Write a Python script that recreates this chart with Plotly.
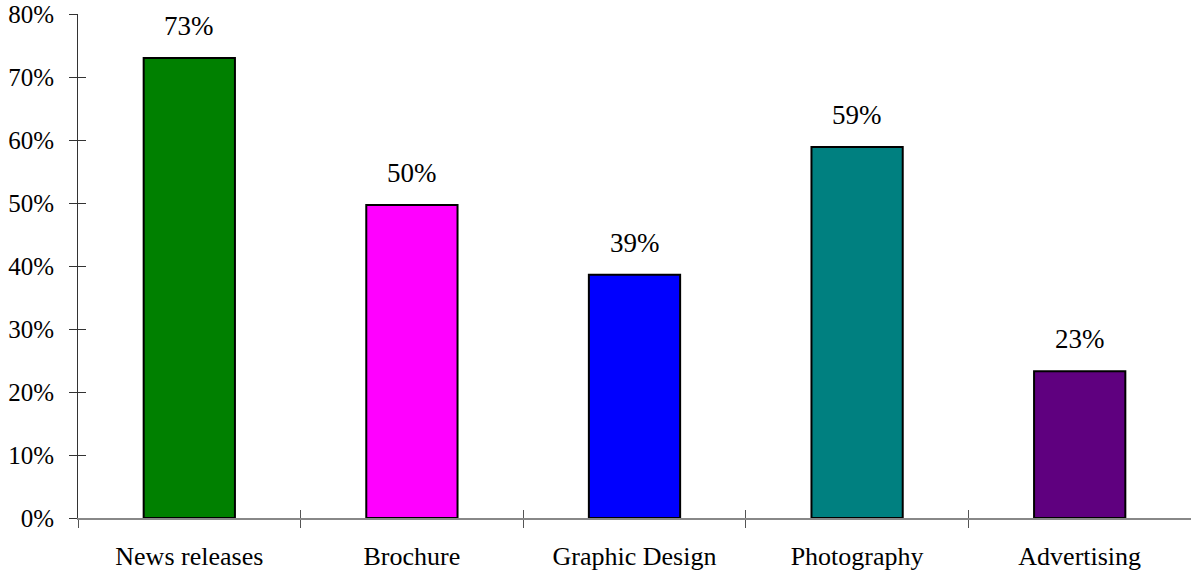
import plotly.graph_objects as go

categories = ["News releases", "Brochure", "Graphic Design", "Photography", "Advertising"]
values = [0.73, 0.497, 0.386, 0.589, 0.233]
colors = ["#008000", "#FF00FF", "#0000FF", "#008080", "#5F007F"]
y_ticks = [0, 0.1, 0.2, 0.3, 0.4, 0.5, 0.6, 0.7, 0.8]
y_tick_labels = ["0%", "10%", "20%", "30%", "40%", "50%", "60%", "70%", "80%"]

FONT = "Liberation Serif, Times New Roman, serif"

fig = go.Figure()
fig.add_trace(go.Bar(
    x=categories, y=values,
    marker=dict(color=colors, line=dict(color="black", width=2)),
    width=0.41,
    hoverinfo="skip",
))

for c, v in zip(categories, values):
    fig.add_annotation(x=c, y=v, text=f"{round(v*100):d}%", showarrow=False,
                       yanchor="bottom", yshift=15,
                       font=dict(family=FONT, size=27, color="black"))

fig.update_layout(
    width=1191, height=575,
    margin=dict(l=78, r=0, t=14, b=57),
    paper_bgcolor="white", plot_bgcolor="white",
    showlegend=False,
    font=dict(family=FONT, color="black"),
    xaxis=dict(
        type="category", tickson="boundaries", ticks="outside", ticklen=8,
        tickcolor="#555", tickwidth=1,
        showline=True, linecolor="#888", linewidth=2,
        showgrid=False, zeroline=False,
        tickfont=dict(family=FONT, size=26, color="black"),
        ticklabelstandoff=14,
        automargin=False, range=[-0.5, 4.5],
    ),
    xaxis2=dict(
        type="category", overlaying="x", matches="x", tickson="boundaries",
        ticks="inside", ticklen=8, tickcolor="#555", tickwidth=1,
        showticklabels=False, showgrid=False, zeroline=False, showline=False,
        anchor="y", side="bottom", range=[-0.5, 4.5],
        categoryorder="array", categoryarray=categories,
    ),
    yaxis=dict(
        range=[0, 0.8], tickvals=y_ticks, ticktext=y_tick_labels,
        ticks="outside", ticklen=8, tickcolor="#333", tickwidth=1,
        showline=True, linecolor="#333", linewidth=1,
        showgrid=False, zeroline=False,
        tickfont=dict(family=FONT, size=25, color="black"),
        ticklabelstandoff=10, ticklabeloverflow="allow",
        automargin=False,
    ),
    yaxis2=dict(
        range=[0, 0.8], tickvals=y_ticks, overlaying="y", matches="y",
        ticks="inside", ticklen=8, tickcolor="#333", tickwidth=1,
        showticklabels=False, showgrid=False, zeroline=False, showline=False,
        side="left", anchor="x",
    ),
)

# invisible trace to activate secondary axes
fig.add_trace(go.Scatter(x=categories, y=values, xaxis="x2", yaxis="y2",
                         mode="markers", marker=dict(opacity=0), hoverinfo="skip"))

fig.write_html("out.html", config={"displayModeBar": False},
               post_script="document.body.style.margin='0px';document.body.style.overflow='hidden';")
